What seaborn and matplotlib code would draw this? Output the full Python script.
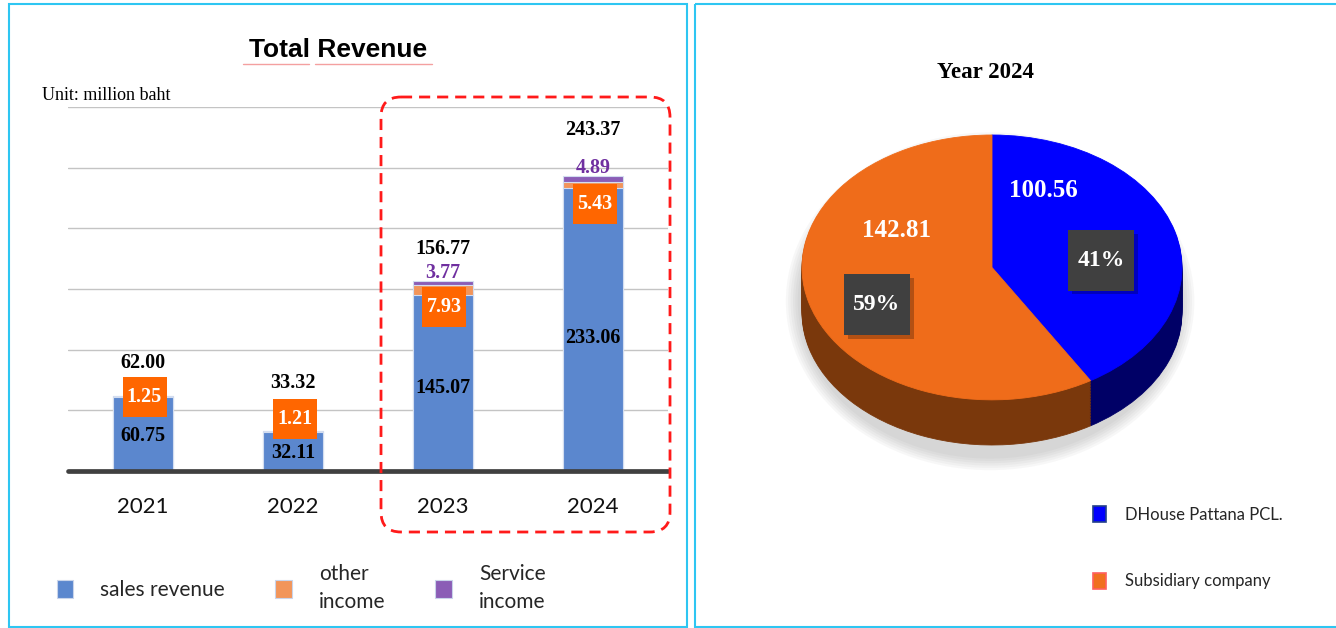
import matplotlib
matplotlib.use("Agg")
import matplotlib.pyplot as plt
import matplotlib.patches as mpatches
import numpy as np
import pandas as pd
import seaborn as sns

# Total revenue by year (million baht)
years = ["2021", "2022", "2023", "2024"]
sales_revenue = [60.75, 32.11, 145.07, 233.06]
other_income = [1.25, 1.21, 7.93, 5.43]
service_income = [0.0, 0.0, 3.77, 4.89]
total_revenue = [62.00, 33.32, 156.77, 243.37]
bar_legend = ["sales revenue", "other\nincome", "Service\nincome"]

# Year 2024 split
pie_labels = ["DHouse Pattana PCL.", "Subsidiary company"]
pie_values = [100.56, 142.81]
pie_pct = ["41%", "59%"]

sns.set_theme(style="white")
plt.rcParams["font.family"] = ["Lato", "DejaVu Sans"]
SERIF = ["Liberation Serif", "DejaVu Serif"]

W, H = 1336, 628
fig = plt.figure(figsize=(W / 100, H / 100), dpi=100)

BLUE = "#5B87CE"
ORANGE = "#F2955A"
PURPLE = "#8B5DB6"
BOXORANGE = "#FF6600"

# Stacked bars: draw cumulative heights back to front
df = pd.DataFrame({"year": years, "sales": sales_revenue,
                   "other": other_income, "service": service_income})
df["lvl2"] = df["sales"] + df["other"]
df["lvl3"] = df["lvl2"] + df["service"]

ax = fig.add_axes([68 / W, 1 - 471 / H, 600 / W, 364 / H])
for col, c in [("lvl3", PURPLE), ("lvl2", ORANGE), ("sales", BLUE)]:
    sns.barplot(data=df, x="year", y=col, color=c, saturation=1, width=0.4,
                errorbar=None, edgecolor="#D3DDF0", linewidth=0.8, ax=ax)

ax.set_xlim(-0.5, 3.5)
ax.set_ylim(0, 300)
ax.set_yticks(np.arange(50, 301, 50))
ax.set_yticklabels([])
ax.yaxis.grid(True, color="#C4C4C4", lw=1.0)
ax.set_axisbelow(True)
ax.set_xlabel("")
ax.set_ylabel("")
for s in ax.spines.values():
    s.set_visible(False)
ax.tick_params(axis="both", length=0)
ax.tick_params(axis="x", pad=19, labelsize=16, labelcolor="#111111")
ax.axhline(0, color="#404040", lw=3.4, clip_on=False, zorder=5)

# label placement (manual, as in the original)
total_off = [27, 39, 26, 38]
other_off = [0, 11, -9.5, -13]
tag_w, tag_h = 44 / 150, 40 / 1.213   # orange tag size: 44 x 40 px
for i in range(len(years)):
    ax.text(i, total_revenue[i] + total_off[i], f"{total_revenue[i]:.2f}",
            ha="center", va="center", fontsize=14.5, fontweight="bold",
            family=SERIF, color="black", zorder=6)
    ax.text(i, sales_revenue[i] * 0.47, f"{sales_revenue[i]:.2f}",
            ha="center", va="center", fontsize=14.5, fontweight="bold",
            family=SERIF, color="black", zorder=6)
    yc = sales_revenue[i] + other_off[i]
    ax.add_patch(mpatches.Rectangle((i + 0.01 - tag_w / 2, yc - tag_h / 2),
                                    tag_w, tag_h, fc=BOXORANGE, ec="none",
                                    zorder=5.5))
    ax.text(i + 0.01, yc, f"{other_income[i]:.2f}",
            ha="center", va="center", fontsize=14.5, fontweight="bold",
            family=SERIF, color="white", zorder=6)
    if service_income[i] > 0:
        ax.text(i, total_revenue[i] + 6.5, f"{service_income[i]:.2f}",
                ha="center", va="center", fontsize=14.5, fontweight="bold",
                family=SERIF, color="#7030A0", zorder=6)

bar_handles = [mpatches.Patch(fc=c, ec="#C9D4EA", lw=0.8) for c in (BLUE, ORANGE, PURPLE)]
leg = fig.legend(bar_handles, bar_legend, ncol=3, loc="center left",
                 bbox_to_anchor=(38 / W, 1 - 588 / H), frameon=False,
                 fontsize=15, handlelength=0.8, handleheight=1.0,
                 handletextpad=1.3, columnspacing=2.4)
for t in leg.get_texts():
    t.set_linespacing(1.45)

# Pie (pseudo 3D: stacked darker layers under the top face)
axp = fig.add_axes([802 / W, 1 - 445 / H, 380 / W, 310 / H])
depth = 45 / 132
for k in range(6):
    axp.add_patch(mpatches.Ellipse((-0.01, -depth * 0.75), 2.0 + 0.025 * (6 - k),
                                   2.0 + depth + 0.035 * (6 - k), fc="#707070",
                                   ec="none", alpha=0.05, clip_on=False))


def solid(wedges):
    for w in wedges:
        w.set_edgecolor(w.get_facecolor())
        w.set_linewidth(0.6)


for off in np.linspace(-depth, 0, 30)[:-1]:
    wedges, _ = axp.pie(pie_values, colors=["#000066", "#7A380C"], startangle=90,
                        counterclock=False, center=(0, off), radius=1)
    solid(wedges)
wedges, _ = axp.pie(pie_values, colors=["#0000FF", "#EF6C1A"], startangle=90,
                    counterclock=False, radius=1)
solid(wedges)
axp.set_aspect("auto")
axp.set_xlim(-1, 1)
axp.set_ylim(-1 - depth, 1)
axp.axis("off")

axp.text(0.27, 0.58, f"{pie_values[0]:.2f}", ha="center", va="center",
         fontsize=18, fontweight="bold", family=SERIF, color="white")
axp.text(-0.50, 0.28, f"{pie_values[1]:.2f}", ha="center", va="center",
         fontsize=18, fontweight="bold", family=SERIF, color="white")
# percentage tags: dark square boxes with a soft drop shadow
bw, bh = 66 / 190, 60 / 132
for (x, y), t in zip([(0.574, 0.053), (-0.605, -0.28)], pie_pct):
    axp.add_patch(mpatches.Rectangle((x - bw / 2 + 0.02, y - bh / 2 - 0.03), bw, bh,
                                     fc="#000000", alpha=0.25, ec="none"))
    axp.add_patch(mpatches.Rectangle((x - bw / 2, y - bh / 2), bw, bh,
                                     fc="#404040", ec="none"))
    axp.text(x, y, t, ha="center", va="center", fontsize=17,
             fontweight="bold", family=SERIF, color="white")

pie_handles = [mpatches.Patch(fc="#0000FF", ec="#24408A", lw=1.2),
               mpatches.Patch(fc="#F07020", ec="#FF6060", lw=1.2)]
fig.legend(pie_handles, pie_labels, loc="upper left",
           bbox_to_anchor=(1078 / W, 1 - 491 / H), frameon=False, fontsize=12,
           handlelength=0.8, handleheight=1.1, handletextpad=1.1,
           labelspacing=3.0)

# Overlay in pixel units: panel frames, highlight box, titles
ov = fig.add_axes([0, 0, 1, 1], zorder=10)
ov.set_xlim(0, W)
ov.set_ylim(H, 0)
ov.axis("off")
ov.patch.set_alpha(0)
ov.add_patch(mpatches.Rectangle((9, 4), 678, 623, fill=False, ec="#2EC6F2", lw=1.5))
ov.add_patch(mpatches.Rectangle((695, 4), 660, 623, fill=False, ec="#2EC6F2", lw=1.5))
ov.add_patch(mpatches.FancyBboxPatch((381, 97), 289, 435,
                                     boxstyle="round,pad=0,rounding_size=20",
                                     fill=False, ec="#FF1A1A", lw=2.0,
                                     ls=(0, (4, 2.5))))
ov.text(338, 50, "Total Revenue", ha="center", va="center", fontsize=19,
        fontweight="bold", family=["Liberation Sans", "DejaVu Sans"], color="black")
ov.plot([243, 309], [64, 64], color="#F4A0A0", lw=1)
ov.plot([315, 432], [64, 64], color="#F4A0A0", lw=1)
ov.text(42, 96, "Unit: million baht", ha="left", va="center", fontsize=13,
        family=SERIF, color="black")
ov.text(985, 72, "Year 2024", ha="center", va="center", fontsize=16.5,
        fontweight="bold", family=SERIF, color="black")

fig.savefig("out.png", dpi=100, facecolor="white")
